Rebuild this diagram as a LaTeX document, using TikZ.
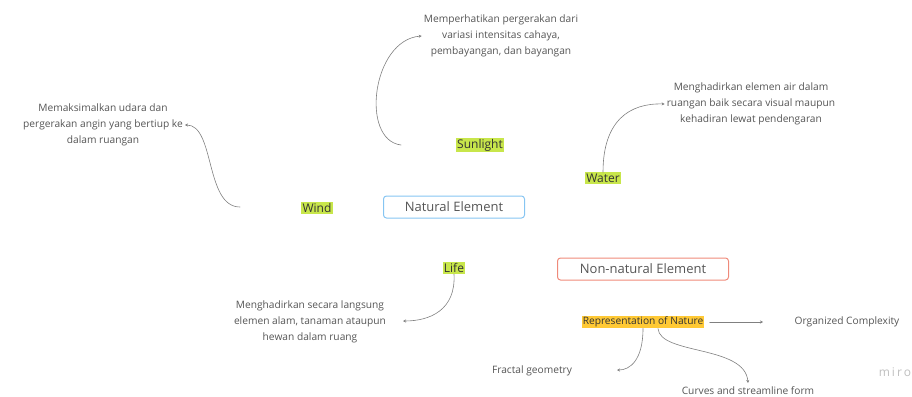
\documentclass[tikz,border=0pt]{standalone}
\usepackage{fontspec}
\setmainfont{Open Sans}
\usetikzlibrary{arrows.meta}

\definecolor{leaf}{HTML}{C8E64B}
\definecolor{sun}{HTML}{FFC935}
\definecolor{skyline}{HTML}{86C5F2}
\definecolor{coral}{HTML}{EF8A7A}
\definecolor{ink}{HTML}{555555}
\definecolor{wire}{HTML}{808080}

\begin{document}
\begin{tikzpicture}[x=1pt,y=-1pt,>={Stealth[length=3pt,width=3pt]},line cap=round,line join=round,
  note/.style={align=center,text=ink,font=\fontsize{10.2}{15.7}\selectfont,inner sep=2pt},
  tag/.style={fill=leaf,text=black!80,font=\fontsize{12}{14}\selectfont,inner sep=1.2pt},
  hub/.style={draw=#1,rounded corners=3pt,line width=1pt,minimum width=141pt,minimum height=22pt,text=ink,font=\fontsize{13}{15}\selectfont},
  link/.style={->,draw=wire,line width=0.6pt}]
\useasboundingbox (0,0) rectangle (912,396);
% centre boxes
\node[hub=skyline] (natural) at (454,207) {Natural Element};
\node[hub=coral,minimum width=171pt] (nonnatural) at (643,269) {Non-natural Element};
% element tags
\node[tag] (sunlight) at (480,145) {Sunlight};
\node[tag] (wind) at (317,208) {Wind};
\node[tag] (water) at (603,178) {Water};
\node[tag] (life) at (454,268) {Life};
\node[tag,fill=sun,font=\fontsize{10.2}{12}\selectfont] (repr) at (643,322) {Representation of Nature};
% descriptions
\node[note] (sundesc) at (501,36) {Memperhatikan pergerakan dari\\variasi intensitas cahaya,\\pembayangan, dan bayangan};
\node[note] (winddesc) at (103,125) {Memaksimalkan udara dan\\pergerakan angin yang bertiup ke\\dalam ruangan};
\node[note] (waterdesc) at (751,104) {Menghadirkan elemen air dalam\\ruangan baik secara visual maupun\\kehadiran lewat pendengaran};
\node[note] (lifedesc) at (310,322) {Menghadirkan secara langsung\\elemen alam, tanaman ataupun\\hewan dalam ruang};
\node[note] (organized) at (847,322) {Organized Complexity};
\node[note] (fractal) at (532,371) {Fractal geometry};
\node[note] (curves) at (748,391) {Curves and streamline form};
\node[text=black!25,font=\fontsize{12}{14}\selectfont] (miro) at (895,372) {m\,i\,r\,o};
% free ends
\coordinate (sunfoot) at (401,145);
\coordinate (windfoot) at (240,207);
\coordinate (lifehead) at (403,321);
\coordinate (orgtail) at (763,322);
\coordinate (fractalhead) at (617,370);
\coordinate (curveshead) at (748,383);
% connectors
\draw[link] (sunfoot) .. controls (360,140) and (372,40) .. (sundesc.west);
\draw[link] (windfoot) .. controls (205,207) and (215,125) .. (winddesc.east);
\draw[link] (water.north) .. controls (603,120) and (630,103) .. (waterdesc.west);
\draw[link] (life.south) .. controls (456,310) and (430,321) .. (lifehead);
\draw[link] ([xshift=5pt]repr.east) -- (orgtail);
\draw[link] (repr.south) .. controls (643,360) and (630,370) .. (fractalhead);
\draw[link] ([xshift=15pt]repr.south) .. controls (660,355) and (745,345) .. (curveshead);
\end{tikzpicture}
\end{document}
